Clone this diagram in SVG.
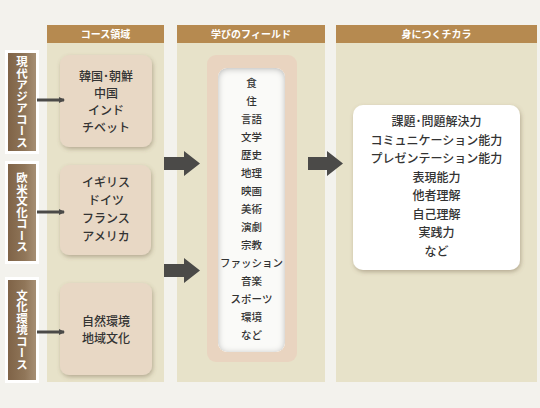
<svg xmlns="http://www.w3.org/2000/svg" width="540" height="408" viewBox="0 0 540 408">
<defs>
<style>
.hdr{fill:#b68a50}
.hdrt{fill:#fff;font-family:"Noto Sans CJK JP","Noto Sans",sans-serif;font-size:10px;font-weight:bold;text-anchor:middle}
.panel{fill:#e7e2c9}
.tabo{fill:#fff}
.tab{fill:url(#tabg)}
.tabt{fill:#fff;font-family:"Noto Sans CJK JP",sans-serif;font-size:11.5px;font-weight:bold;writing-mode:vertical-rl;text-anchor:middle}
.node{fill:#e8d8c5;filter:url(#sh)}
.t{fill:#333;font-family:"Noto Sans CJK JP",sans-serif;font-size:12px;font-weight:500;text-anchor:middle}
.ts{fill:#333;font-family:"Noto Sans CJK JP",sans-serif;font-size:10.5px;font-weight:500;text-anchor:middle}
.arr{fill:#4b4a48}
</style>
<linearGradient id="tabg" x1="0" y1="0" x2="1" y2="0">
<stop offset="0" stop-color="#7f6347"/><stop offset="0.6" stop-color="#907659"/><stop offset="1" stop-color="#a68f74"/>
</linearGradient>
<filter id="sh" x="-20%" y="-20%" width="140%" height="140%">
<feDropShadow dx="1" dy="2" stdDeviation="2" flood-color="#6b5a40" flood-opacity="0.4"/>
</filter>
<filter id="ish" x="-10%" y="-10%" width="120%" height="120%">
<feGaussianBlur in="SourceAlpha" stdDeviation="3" result="b"/>
<feOffset dy="1" in="b" result="o"/>
<feComposite in="SourceAlpha" in2="o" operator="arithmetic" k2="1" k3="-1" result="inner"/>
<feFlood flood-color="#555" flood-opacity="0.6"/>
<feComposite in2="inner" operator="in" result="sh"/>
<feMerge><feMergeNode in="SourceGraphic"/><feMergeNode in="sh"/></feMerge>
</filter>
<marker id="ah" markerWidth="6" markerHeight="6" refX="5" refY="3" orient="auto" markerUnits="userSpaceOnUse"><path d="M0,0 L6,3 L0,6 Z" fill="#4b4a48"/></marker>
</defs>
<rect width="540" height="408" fill="#f3f2ed"/>

<g id="col-course">
<rect class="panel" x="47" y="25" width="117" height="357"/>
<rect class="hdr" x="47" y="25" width="117" height="18"/>
<text class="hdrt" x="105.5" y="38">コース領域</text>
</g>
<g id="col-field">
<rect class="panel" x="177" y="25" width="148" height="357"/>
<rect class="hdr" x="177" y="25" width="148" height="18"/>
<text class="hdrt" x="251" y="38">学びのフィールド</text>
</g>
<g id="col-power">
<rect class="panel" x="336" y="25" width="201" height="357"/>
<rect class="hdr" x="336" y="25" width="201" height="18"/>
<text class="hdrt" x="436.5" y="38">身につくチカラ</text>
</g>

<g id="tab-asia">
<rect class="tabo" x="5" y="50" width="34" height="104"/>
<rect class="tab" x="8" y="53" width="28" height="98"/>
<text class="tabt" x="22" y="102">現代アジアコース</text>
</g>
<g id="tab-west">
<rect class="tabo" x="5" y="161" width="34" height="103"/>
<rect class="tab" x="8" y="164" width="28" height="97"/>
<text class="tabt" x="22" y="212.5">欧米文化コース</text>
</g>
<g id="tab-env">
<rect class="tabo" x="5" y="277" width="34" height="106"/>
<rect class="tab" x="8" y="280" width="28" height="100"/>
<text class="tabt" x="22" y="330">文化環境コース</text>
</g>

<g id="node-asia">
<rect class="node" x="60" y="55" width="92" height="92" rx="9"/>
<text class="t" x="106" y="81">韓国･朝鮮</text>
<text class="t" x="106" y="98">中国</text>
<text class="t" x="106" y="115">インド</text>
<text class="t" x="106" y="132">チベット</text>
</g>
<g id="node-west">
<rect class="node" x="60" y="165" width="91" height="90" rx="9"/>
<text class="t" x="106" y="187">イギリス</text>
<text class="t" x="106" y="205">ドイツ</text>
<text class="t" x="106" y="223">フランス</text>
<text class="t" x="106" y="241">アメリカ</text>
</g>
<g id="node-env">
<rect class="node" x="60" y="283" width="92" height="92" rx="9"/>
<text class="t" x="106" y="326">自然環境</text>
<text class="t" x="106" y="343">地域文化</text>
</g>

<g id="node-field">
<rect x="207" y="55" width="90" height="307" rx="9" fill="#e9d4c0"/>
<rect x="218" y="68" width="67" height="284" rx="9" fill="#fafaf8" filter="url(#ish)"/>
<text class="ts" x="251.5" y="87">食</text>
<text class="ts" x="251.5" y="105">住</text>
<text class="ts" x="251.5" y="123">言語</text>
<text class="ts" x="251.5" y="141">文学</text>
<text class="ts" x="251.5" y="159">歴史</text>
<text class="ts" x="251.5" y="177">地理</text>
<text class="ts" x="251.5" y="195">映画</text>
<text class="ts" x="251.5" y="213">美術</text>
<text class="ts" x="251.5" y="231">演劇</text>
<text class="ts" x="251.5" y="249">宗教</text>
<text class="ts" x="251.5" y="267">ファッション</text>
<text class="ts" x="251.5" y="285">音楽</text>
<text class="ts" x="251.5" y="303">スポーツ</text>
<text class="ts" x="251.5" y="321">環境</text>
<text class="ts" x="251.5" y="339">など</text>
</g>

<g id="node-power">
<rect x="353" y="105" width="167" height="165" rx="10" fill="#fff" filter="url(#sh)"/>
<text class="t" x="436.5" y="126">課題･問題解決力</text>
<text class="t" x="436.5" y="144.5">コミュニケーション能力</text>
<text class="t" x="436.5" y="163">プレゼンテーション能力</text>
<text class="t" x="436.5" y="181.5">表現能力</text>
<text class="t" x="436.5" y="200">他者理解</text>
<text class="t" x="436.5" y="218.5">自己理解</text>
<text class="t" x="436.5" y="237">実践力</text>
<text class="t" x="436.5" y="255.5">など</text>
</g>

<g id="connectors">
<line x1="37" y1="100" x2="64" y2="100" stroke="#4b4a48" stroke-width="3" marker-end="url(#ah)"/>
<line x1="37" y1="212" x2="64" y2="212" stroke="#4b4a48" stroke-width="3" marker-end="url(#ah)"/>
<line x1="37" y1="332" x2="64" y2="332" stroke="#4b4a48" stroke-width="3" marker-end="url(#ah)"/>
<polygon class="arr" points="164,157 184,157 184,151 200,163.5 184,176 184,170 164,170"/>
<polygon class="arr" points="164,264 184,264 184,258 200,270.5 184,283 184,277 164,277"/>
<polygon class="arr" points="308,157 327,157 327,151 343,163.5 327,176 327,170 308,170"/>
</g>
</svg>
